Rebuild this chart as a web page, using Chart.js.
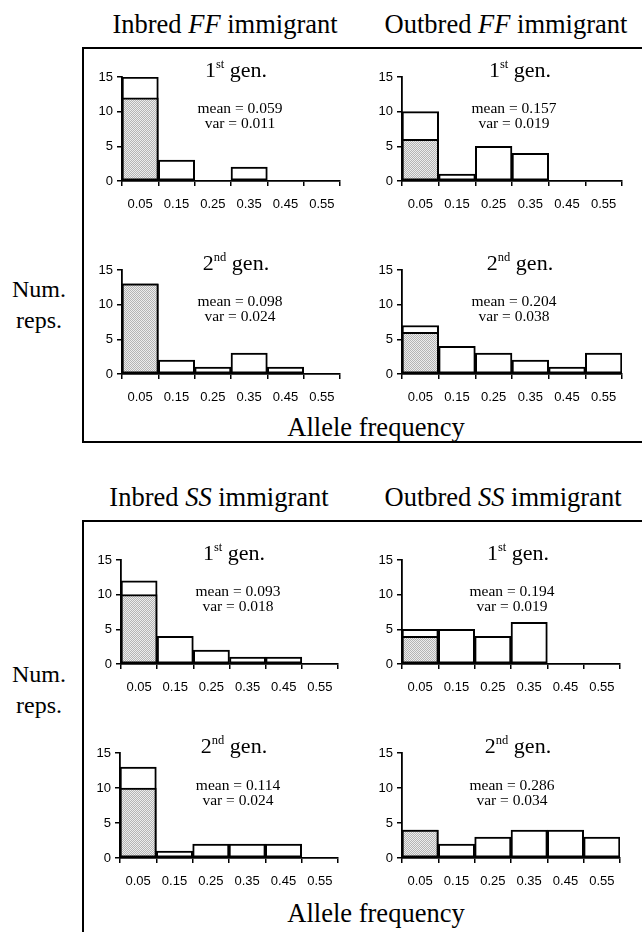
<!DOCTYPE html>
<html>
<head>
<meta charset="utf-8">
<script src="https://cdn.jsdelivr.net/npm/chart.js@4.4.1/dist/chart.umd.min.js"></script>
<style>
  html, body { margin: 0; padding: 0; background: #fff; }
  #page { position: relative; width: 642px; height: 932px; overflow: hidden; background: #fff; }
  canvas { position: absolute; }
  .t { position: absolute; transform: translate(-50%, -50%); white-space: nowrap; font-family: "Liberation Serif", "Times New Roman", serif; color: #000; line-height: 1; }
  .title { font-size: 26.5px; }
  .gen { font-size: 22px; }
  .gen sup { font-size: 12.5px; vertical-align: 0; position: relative; top: -9px; }
  .stat { font-size: 15.5px; text-align: center; line-height: 15px; }
  .side { font-size: 24px; text-align: center; line-height: 31px; }
  .box { position: absolute; border: 0 solid #000; }
</style>
</head>
<body>
<div id="page"></div>
<script>
const xLabels = ["0.05", "0.15", "0.25", "0.35", "0.45", "0.55"];
const yTicks = [0, 5, 10, 15];

// total bar heights (white) and shaded part of the first bin
const inbredFF1 = [15, 3, 0, 2, 0, 0];
const inbredFF1Shaded = [12, 0, 0, 0, 0, 0];
const outbredFF1 = [10, 1, 5, 4, 0, 0];
const outbredFF1Shaded = [6, 0, 0, 0, 0, 0];
const inbredFF2 = [13, 2, 1, 3, 1, 0];
const inbredFF2Shaded = [13, 0, 0, 0, 0, 0];
const outbredFF2 = [7, 4, 3, 2, 1, 3];
const outbredFF2Shaded = [6, 0, 0, 0, 0, 0];
const inbredSS1 = [12, 4, 2, 1, 1, 0];
const inbredSS1Shaded = [10, 0, 0, 0, 0, 0];
const outbredSS1 = [5, 5, 4, 6, 0, 0];
const outbredSS1Shaded = [4, 0, 0, 0, 0, 0];
const inbredSS2 = [13, 1, 2, 2, 2, 0];
const inbredSS2Shaded = [10, 0, 0, 0, 0, 0];
const outbredSS2 = [4, 2, 3, 4, 4, 3];
const outbredSS2Shaded = [4, 0, 0, 0, 0, 0];

const page = document.getElementById("page");

function addText(cls, html, x, y) {
  const d = document.createElement("div");
  d.className = "t " + cls;
  d.innerHTML = html;
  d.style.left = x + "px";
  d.style.top = y + "px";
  page.appendChild(d);
}

function addBox(left, top, width, height, sides) {
  const d = document.createElement("div");
  d.className = "box";
  d.style.left = left + "px";
  d.style.top = top + "px";
  d.style.width = width + "px";
  d.style.height = height + "px";
  sides.forEach((s) => { d.style["border" + s + "Width"] = "2px"; });
  page.appendChild(d);
}

// stippled grey fill
const pc = document.createElement("canvas");
pc.width = 2; pc.height = 2;
const pctx = pc.getContext("2d");
pctx.fillStyle = "#ececec"; pctx.fillRect(0, 0, 2, 2);
pctx.fillStyle = "#b4b4b4"; pctx.fillRect(0, 0, 1, 1); pctx.fillRect(1, 1, 1, 1);
const stipple = pctx.createPattern(pc, "repeat");

const tickFont = { family: "'Liberation Sans', Arial, sans-serif", size: 13 };
const padL = 40, padT = 12, padR = 8, padB = 40;

function histogram(total, shaded, axisX, top15, zero, right) {
  const c = document.createElement("canvas");
  const w = right - axisX + padL + padR;
  const h = zero - top15 + padT + padB;
  c.width = w; c.height = h;
  c.style.left = (axisX - padL) + "px";
  c.style.top = (top15 - padT) + "px";
  page.appendChild(c);

  const barStyle = {
    borderColor: "#000",
    borderWidth: 2,
    borderSkipped: false,
    barPercentage: 1,
    categoryPercentage: 1,
  };

  new Chart(c, {
    type: "bar",
    data: {
      labels: xLabels,
      datasets: [
        { ...barStyle, data: shaded.map((v) => (v ? v : null)), backgroundColor: stipple },
        { ...barStyle, data: total.map((v) => (v ? v : null)), backgroundColor: "#fff" },
      ],
    },
    options: {
      responsive: false,
      animation: false,
      devicePixelRatio: 1,
      layout: { padding: { top: padT, right: padR, left: 0, bottom: 0 } },
      plugins: { legend: { display: false }, tooltip: { enabled: false } },
      scales: {
        x: {
          stacked: true,
          offset: true,
          grid: { offset: true, drawOnChartArea: false, drawTicks: true, tickLength: 5, color: "#000", lineWidth: 1.5 },
          border: { color: "#000", width: 1.8 },
          ticks: { font: tickFont, color: "#000", padding: 11, maxRotation: 0, autoSkip: false },
          afterFit: (s) => { s.height = padB; },
        },
        y: {
          stacked: false,
          min: 0,
          max: 15,
          afterBuildTicks: (s) => { s.ticks = yTicks.map((v) => ({ value: v })); },
          grid: { drawOnChartArea: false, drawTicks: true, tickLength: 5, color: "#000", lineWidth: 1.5 },
          border: { color: "#000", width: 1.8 },
          ticks: { font: tickFont, color: "#000", padding: 4 },
          afterFit: (s) => { s.width = padL; },
        },
      },
    },
  });
}

// boxes
addBox(82, 47, 600, 392, ["Top", "Left", "Bottom"]);
addBox(82, 520, 600, 500, ["Top", "Left"]);

// titles
addText("title", "Inbred <i>FF</i> immigrant", 225, 24);
addText("title", "Outbred <i>FF</i> immigrant", 506, 24);
addText("title", "Inbred <i>SS</i> immigrant", 219, 497);
addText("title", "Outbred <i>SS</i> immigrant", 503, 497);

addText("side", "Num.<br>reps.", 39, 305);
addText("side", "Num.<br>reps.", 39, 690);

addText("title", "Allele frequency", 376, 427);
addText("title", "Allele frequency", 376, 913);

// panels
histogram(inbredFF1, inbredFF1Shaded, 122, 77, 181, 340);
histogram(outbredFF1, outbredFF1Shaded, 402, 77, 181, 622);
histogram(inbredFF2, inbredFF2Shaded, 122, 270, 374, 340);
histogram(outbredFF2, outbredFF2Shaded, 402, 270, 374, 622);
histogram(inbredSS1, inbredSS1Shaded, 121, 560, 664, 338);
histogram(outbredSS1, outbredSS1Shaded, 402, 560, 664, 620);
histogram(inbredSS2, inbredSS2Shaded, 120, 753, 858, 338);
histogram(outbredSS2, outbredSS2Shaded, 402, 753, 858, 620);

// generation labels and stats
const first = "1<sup>st</sup> gen.";
const second = "2<sup>nd</sup> gen.";
addText("gen", first, 236, 70);
addText("gen", first, 520, 70);
addText("gen", second, 236, 263);
addText("gen", second, 520, 263);
addText("gen", first, 234, 553);
addText("gen", first, 518, 553);
addText("gen", second, 234, 746);
addText("gen", second, 518, 746);

addText("stat", "mean = 0.059<br>var = 0.011", 240, 115);
addText("stat", "mean = 0.157<br>var = 0.019", 514, 115);
addText("stat", "mean = 0.098<br>var = 0.024", 240, 308);
addText("stat", "mean = 0.204<br>var = 0.038", 514, 308);
addText("stat", "mean = 0.093<br>var = 0.018", 238, 598);
addText("stat", "mean = 0.194<br>var = 0.019", 512, 598);
addText("stat", "mean = 0.114<br>var = 0.024", 238, 792);
addText("stat", "mean = 0.286<br>var = 0.034", 512, 792);
</script>
</body>
</html>
